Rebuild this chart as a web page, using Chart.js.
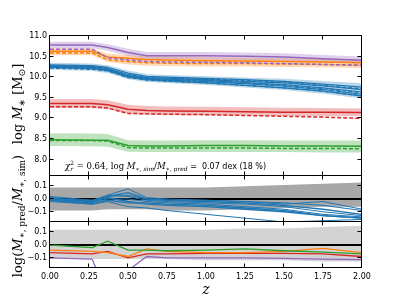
<!DOCTYPE html>
<html>
<head>
<meta charset="utf-8">
<script src="https://cdn.jsdelivr.net/npm/chart.js@4.4.0/dist/chart.umd.min.js"></script>
<style>
  html, body { margin: 0; padding: 0; background: #fff; }
  #wrap { position: relative; width: 403px; height: 302px; }
  #wrap canvas { position: absolute; left: 0; top: 0; }
</style>
</head>
<body>
<div id="wrap">
  <canvas id="topChart" width="403" height="302"></canvas>
  <canvas id="midChart" width="403" height="302"></canvas>
  <canvas id="botChart" width="403" height="302"></canvas>
</div>
<script>
// --- Datos ---
const Z = [0, 0.27, 0.37, 0.5, 0.62, 0.75, 1.0, 1.25, 1.5, 1.75, 2.0];
const X_TICKS = [0, 0.25, 0.5, 0.75, 1.0, 1.25, 1.5, 1.75, 2.0];
const TOP_Y_TICKS = [8.0, 8.5, 9.0, 9.5, 10.0, 10.5, 11.0];
const RES_Y_TICKS = [-0.1, 0.0, 0.1];

// panel superior: log M* (sólida = sim, discontinua = pred)
const purpleSim  = [10.78, 10.78, 10.72, 10.60, 10.52, 10.52, 10.52, 10.51, 10.49, 10.45, 10.41];
const purplePred = [10.68, 10.68, 10.47, 10.42, 10.38, 10.37, 10.36, 10.35, 10.33, 10.31, 10.29];
const purpleHi   = [10.86, 10.86, 10.80, 10.69, 10.61, 10.61, 10.61, 10.60, 10.58, 10.54, 10.50];
const purpleLo   = [10.70, 10.70, 10.64, 10.52, 10.44, 10.44, 10.43, 10.42, 10.40, 10.37, 10.33];

const orangeSim  = [10.63, 10.63, 10.49, 10.46, 10.43, 10.42, 10.40, 10.39, 10.38, 10.37, 10.35];
const orangePred = [10.59, 10.59, 10.42, 10.38, 10.35, 10.34, 10.33, 10.33, 10.32, 10.31, 10.29];
const orangeHi   = [10.70, 10.70, 10.57, 10.54, 10.51, 10.50, 10.48, 10.47, 10.46, 10.45, 10.43];
const orangeLo   = [10.53, 10.53, 10.37, 10.31, 10.28, 10.27, 10.26, 10.26, 10.25, 10.24, 10.22];

const blueSim1 = [10.30, 10.28, 10.24, 10.10, 10.02, 10.00, 9.97, 9.94, 9.90, 9.83, 9.76];
const blueSim2 = [10.28, 10.26, 10.21, 10.06, 9.99, 9.97, 9.94, 9.90, 9.86, 9.79, 9.70];
const blueSim3 = [10.27, 10.24, 10.19, 10.04, 9.97, 9.95, 9.92, 9.87, 9.82, 9.74, 9.64];
const blueSim4 = [10.25, 10.22, 10.17, 10.02, 9.95, 9.93, 9.89, 9.84, 9.78, 9.70, 9.58];
const blueSim5 = [10.24, 10.21, 10.16, 10.00, 9.94, 9.91, 9.86, 9.80, 9.74, 9.66, 9.54];
const bluePred1 = [10.27, 10.25, 10.21, 10.05, 9.99, 9.97, 9.95, 9.92, 9.88, 9.80, 9.72];
const bluePred2 = [10.24, 10.21, 10.17, 10.01, 9.95, 9.93, 9.90, 9.85, 9.80, 9.72, 9.62];
const bluePred3 = [10.22, 10.19, 10.15, 9.99, 9.93, 9.90, 9.86, 9.80, 9.74, 9.66, 9.55];
const blueHi = [10.35, 10.33, 10.29, 10.16, 10.08, 10.05, 10.02, 9.99, 9.96, 9.91, 9.85];
const blueLo = [10.18, 10.15, 10.10, 9.95, 9.88, 9.86, 9.81, 9.75, 9.69, 9.60, 9.48];

const redSim  = [9.36, 9.36, 9.33, 9.22, 9.19, 9.18, 9.17, 9.16, 9.15, 9.15, 9.14];
const redPred = [9.28, 9.28, 9.25, 9.12, 9.11, 9.10, 9.09, 9.07, 9.05, 9.03, 9.00];
const redHi   = [9.47, 9.47, 9.44, 9.33, 9.30, 9.29, 9.28, 9.27, 9.26, 9.25, 9.24];
const redLo   = [9.25, 9.25, 9.22, 9.12, 9.09, 9.08, 9.07, 9.07, 9.06, 9.06, 9.05];

const greenSim  = [8.48, 8.47, 8.47, 8.34, 8.33, 8.33, 8.34, 8.34, 8.33, 8.33, 8.32];
const greenPred = [8.46, 8.46, 8.45, 8.29, 8.28, 8.28, 8.28, 8.28, 8.27, 8.27, 8.26];
const greenHi   = [8.64, 8.63, 8.62, 8.47, 8.46, 8.46, 8.47, 8.47, 8.46, 8.46, 8.46];
const greenLo   = [8.33, 8.32, 8.31, 8.19, 8.18, 8.18, 8.18, 8.18, 8.18, 8.17, 8.17];

// panel medio: residuos de las galaxias azules
const resBlue1 = [0.00, -0.03, 0.03, 0.08, 0.01, 0.00, -0.01, -0.02, -0.03, -0.05, -0.09];
const resBlue2 = [0.01, -0.02, 0.02, 0.05, 0.00, -0.01, -0.02, -0.03, -0.05, -0.08, -0.12];
const resBlue3 = [-0.01, -0.03, 0.00, 0.00, -0.02, -0.03, -0.04, -0.06, -0.08, -0.12, -0.14];
const resBlue4 = [0.00, -0.02, 0.01, -0.02, -0.04, -0.05, -0.06, -0.08, -0.10, -0.13, -0.15];
const resBlue5 = [-0.02, -0.04, -0.02, -0.06, -0.07, -0.09, -0.12, -0.15, -0.18, -0.17, -0.16];
const resBlue6 = [0.00, -0.01, 0.02, 0.03, 0.00, -0.01, -0.01, -0.02, -0.04, -0.02, -0.08];
const resBlue7 = [-0.01, -0.04, -0.01, -0.03, -0.03, -0.04, -0.05, -0.07, -0.09, -0.13, -0.15];
const resBlue8 = [0.02, -0.01, 0.03, 0.02, -0.01, -0.02, -0.03, -0.04, -0.06, -0.10, -0.13];
const midHi = [0.09, 0.09, 0.09, 0.09, 0.09, 0.09, 0.09, 0.10, 0.11, 0.12, 0.13];
const midLo = [-0.09, -0.09, -0.08, -0.08, -0.08, -0.09, -0.09, -0.08, -0.07, -0.06, -0.06];

// panel inferior: residuos del resto
const resGreen  = [0.00, -0.02, 0.03, -0.04, -0.04, -0.045, -0.04, -0.03, -0.045, -0.055, -0.07];
const resOrange = [-0.04, -0.05, -0.06, -0.09, -0.03, -0.05, -0.06, -0.06, -0.05, -0.026, -0.06];
const resRed    = [-0.06, -0.07, -0.05, -0.10, -0.07, -0.07, -0.065, -0.065, -0.065, -0.07, -0.09];
const resPurple = [-0.10, -0.11, -0.40, -0.20, -0.09, -0.10, -0.10, -0.10, -0.105, -0.11, -0.115];
const botHi = [0.12, 0.12, 0.12, 0.12, 0.12, 0.12, 0.12, 0.13, 0.13, 0.14, 0.15];
const botLo = [-0.11, -0.11, -0.11, -0.11, -0.11, -0.11, -0.12, -0.12, -0.12, -0.13, -0.13];

const ZERO_LINE = [0, 0, 0, 0, 0, 0, 0, 0, 0, 0, 0];

// --- Textos ---
const SERIF = 'DejaVu Serif';
const TOP_YLABEL = [
    { t: 'log ', font: `13px ${SERIF}` },
    { t: 'M', font: `italic 13px ${SERIF}` },
    { t: '\u2217', font: `9px DejaVu Sans`, dy: 3 },
    { t: ' [M', font: `13px ${SERIF}` },
    { t: '\u2299', font: `9px DejaVu Sans`, dy: 3 },
    { t: ']', font: `13px ${SERIF}` }
];
const RES_YLABEL = [
    { t: 'log(', font: `13px ${SERIF}` },
    { t: 'M', font: `italic 13px ${SERIF}` },
    { t: '\u2217, pred', font: `9px ${SERIF}`, dy: 3 },
    { t: '/', font: `13px ${SERIF}` },
    { t: 'M', font: `italic 13px ${SERIF}` },
    { t: '\u2217, sim', font: `9px ${SERIF}`, dy: 3 },
    { t: ')', font: `13px ${SERIF}` }
];
const NOTE = [
    { t: '\u03c7', font: `italic 8.5px ${SERIF}` },
    { t: '2', font: `6px ${SERIF}`, dy: -4, keep: true },
    { t: 'r', font: `italic 6px ${SERIF}`, dy: 2 },
    { t: ' = 0.64, log ', font: `8.5px ${SERIF}` },
    { t: 'M', font: `italic 8.5px ${SERIF}` },
    { t: '\u2217, sim', font: `italic 6px ${SERIF}`, dy: 2 },
    { t: '/', font: `8.5px ${SERIF}` },
    { t: 'M', font: `italic 8.5px ${SERIF}` },
    { t: '\u2217, pred', font: `italic 6px ${SERIF}`, dy: 2 },
    { t: ' =  0.07 dex (18 %)', font: `8px DejaVu Sans` }
];

const COL = { blue: '#1f77b4', orange: '#ff7f0e', green: '#2ca02c', red: '#d62728', purple: '#9467bd' };
const tickFont = { family: 'DejaVu Sans', size: 8 };

// --- Helpers ---
function pts(ys) { return Z.map((z, i) => ({ x: z, y: ys[i] })); }

function line(ys, color, width, dash) {
    return { data: pts(ys), borderColor: color, borderWidth: width, borderDash: dash || [],
             pointRadius: 0, fill: false, tension: 0, order: 1 };
}

function band(hi, lo, color) {
    return [
        { data: pts(hi), borderColor: 'transparent', borderWidth: 0, pointRadius: 0, backgroundColor: color, fill: '+1', order: 5 },
        { data: pts(lo), borderColor: 'transparent', borderWidth: 0, pointRadius: 0, fill: false, order: 5 }
    ];
}

function drawRuns(ctx, runs, x, y, align) {
    let w = 0, kept = 0;
    runs.forEach(r => {
        ctx.font = r.font;
        const rw = ctx.measureText(r.t).width;
        if (r.keep) { kept = rw; return; }
        w += Math.max(rw, kept); kept = 0;
    });
    let cx = align === 'center' ? x - w / 2 : x;
    kept = 0;
    runs.forEach(r => {
        ctx.font = r.font;
        ctx.fillText(r.t, cx, y + (r.dy || 0));
        const rw = ctx.measureText(r.t).width;
        if (r.keep) { kept = rw; return; }
        cx += Math.max(rw, kept); kept = 0;
    });
}

// marco con ticks hacia dentro en los cuatro lados
function framePlugin(yTicks) {
    return {
        id: 'frame',
        afterDraw(chart) {
            const { ctx, chartArea: a, scales } = chart;
            const L = Math.round(a.left) - 0.5, R = Math.round(a.right) - 0.5;
            const T = Math.round(a.top) - 0.5, B = Math.round(a.bottom) - 0.5;
            ctx.save();
            ctx.strokeStyle = '#000';
            ctx.lineWidth = 1;
            ctx.strokeRect(L, T, R - L, B - T);
            ctx.beginPath();
            X_TICKS.forEach(v => {
                const x = Math.round(scales.x.getPixelForValue(v)) - 0.5;
                ctx.moveTo(x, T); ctx.lineTo(x, T + 4);
                ctx.moveTo(x, B); ctx.lineTo(x, B - 4);
            });
            yTicks.forEach(v => {
                const y = Math.round(scales.y.getPixelForValue(v)) - 0.5;
                ctx.moveTo(L, y); ctx.lineTo(L + 4, y);
                ctx.moveTo(R, y); ctx.lineTo(R - 4, y);
            });
            ctx.stroke();
            ctx.restore();
        }
    };
}

function makePanel(id, datasets, opts) {
    return new Chart(document.getElementById(id), {
        type: 'line',
        data: { datasets },
        options: {
            responsive: false,
            animation: false,
            devicePixelRatio: 1,
            layout: { padding: { left: 0, right: 41, top: opts.padTop, bottom: opts.padBottom } },
            plugins: { legend: { display: false }, tooltip: { enabled: false } },
            scales: {
                x: {
                    type: 'linear', min: 0, max: 2,
                    display: opts.showX,
                    grid: { display: false, drawTicks: false },
                    border: { display: false },
                    afterBuildTicks: s => { s.ticks = X_TICKS.map(v => ({ value: v })); },
                    afterFit: s => { s.height = opts.showX ? 34 : 0; },
                    ticks: { font: tickFont, color: '#000', padding: 4, maxRotation: 0, autoSkip: false,
                             callback: v => v.toFixed(2) }
                },
                y: {
                    min: opts.yMin, max: opts.yMax,
                    grid: { display: false, drawTicks: false },
                    border: { display: false },
                    afterBuildTicks: s => { s.ticks = opts.yTicks.map(v => ({ value: v })); },
                    afterFit: s => { s.width = 50; },
                    ticks: { font: tickFont, color: '#000', padding: 3,
                             callback: v => (v < -1e-9 ? '\u2212' : '') + Math.abs(v).toFixed(1) }
                }
            }
        },
        plugins: [framePlugin(opts.yTicks)].concat(opts.extra || [])
    });
}

// --- Panel superior ---
const topSets = [
    line(purpleSim, COL.purple, 1.5), line(purplePred, COL.purple, 1.5, [4, 2]),
    line(orangeSim, COL.orange, 1.5), line(orangePred, COL.orange, 1.5, [4, 2]),
    line(blueSim1, COL.blue, 1.2), line(blueSim2, COL.blue, 1.2), line(blueSim3, COL.blue, 1.2),
    line(blueSim4, COL.blue, 1.2), line(blueSim5, COL.blue, 1.2),
    line(bluePred1, COL.blue, 1.2, [4, 2]), line(bluePred2, COL.blue, 1.2, [4, 2]), line(bluePred3, COL.blue, 1.2, [4, 2]),
    line(redSim, COL.red, 1.5), line(redPred, COL.red, 1.5, [4, 2]),
    line(greenSim, COL.green, 1.5), line(greenPred, COL.green, 1.5, [4, 2]),
    ...band(purpleHi, purpleLo, 'rgba(148,103,189,0.3)'),
    ...band(orangeHi, orangeLo, 'rgba(255,127,14,0.3)'),
    ...band(blueHi, blueLo, 'rgba(31,119,180,0.3)'),
    ...band(redHi, redLo, 'rgba(214,39,40,0.3)'),
    ...band(greenHi, greenLo, 'rgba(44,160,44,0.3)')
];

const topText = {
    id: 'topText',
    afterDraw(chart) {
        const ctx = chart.ctx;
        ctx.save();
        ctx.fillStyle = '#000';
        ctx.textBaseline = 'alphabetic';
        drawRuns(ctx, NOTE, 65, 169, 'left');
        ctx.translate(22, 104);
        ctx.rotate(-Math.PI / 2);
        drawRuns(ctx, TOP_YLABEL, 0, 0, 'center');
        ctx.restore();
    }
};

makePanel('topChart', topSets, { padTop: 36, padBottom: 126, showX: false,
    yMin: 7.6, yMax: 11.0, yTicks: TOP_Y_TICKS, extra: [topText] });

// --- Panel medio ---
const midSets = [
    line(resBlue1, COL.blue, 1.0), line(resBlue2, COL.blue, 1.4), line(resBlue3, COL.blue, 1.0),
    line(resBlue4, COL.blue, 1.4), line(resBlue5, COL.blue, 1.0), line(resBlue6, COL.blue, 1.0),
    line(resBlue7, COL.blue, 1.4), line(resBlue8, COL.blue, 1.0),
    Object.assign(line(ZERO_LINE, '#000', 2), { order: 3 }),
    ...band(midHi, midLo, '#a8a8a8')
];
makePanel('midChart', midSets, { padTop: 176, padBottom: 80, showX: false,
    yMin: -0.18, yMax: 0.18, yTicks: RES_Y_TICKS });

// --- Panel inferior ---
const botSets = [
    line(resGreen, COL.green, 1.3), line(resOrange, COL.orange, 1.3),
    line(resRed, COL.red, 1.3), line(resPurple, COL.purple, 1.3),
    Object.assign(line(ZERO_LINE, '#000', 2), { order: 3 }),
    ...band(botHi, botLo, '#d3d3d3')
];

const botText = {
    id: 'botText',
    afterDraw(chart) {
        const ctx = chart.ctx;
        ctx.save();
        ctx.fillStyle = '#000';
        ctx.textBaseline = 'alphabetic';
        drawRuns(ctx, [{ t: 'z', font: `italic 14px ${SERIF}` }], 206, 294, 'center');
        ctx.translate(22, 216);
        ctx.rotate(-Math.PI / 2);
        drawRuns(ctx, RES_YLABEL, 0, 0, 'center');
        ctx.restore();
    }
};

makePanel('botChart', botSets, { padTop: 222, padBottom: 0, showX: true,
    yMin: -0.18, yMax: 0.18, yTicks: RES_Y_TICKS, extra: [botText] });
</script>
</body>
</html>
